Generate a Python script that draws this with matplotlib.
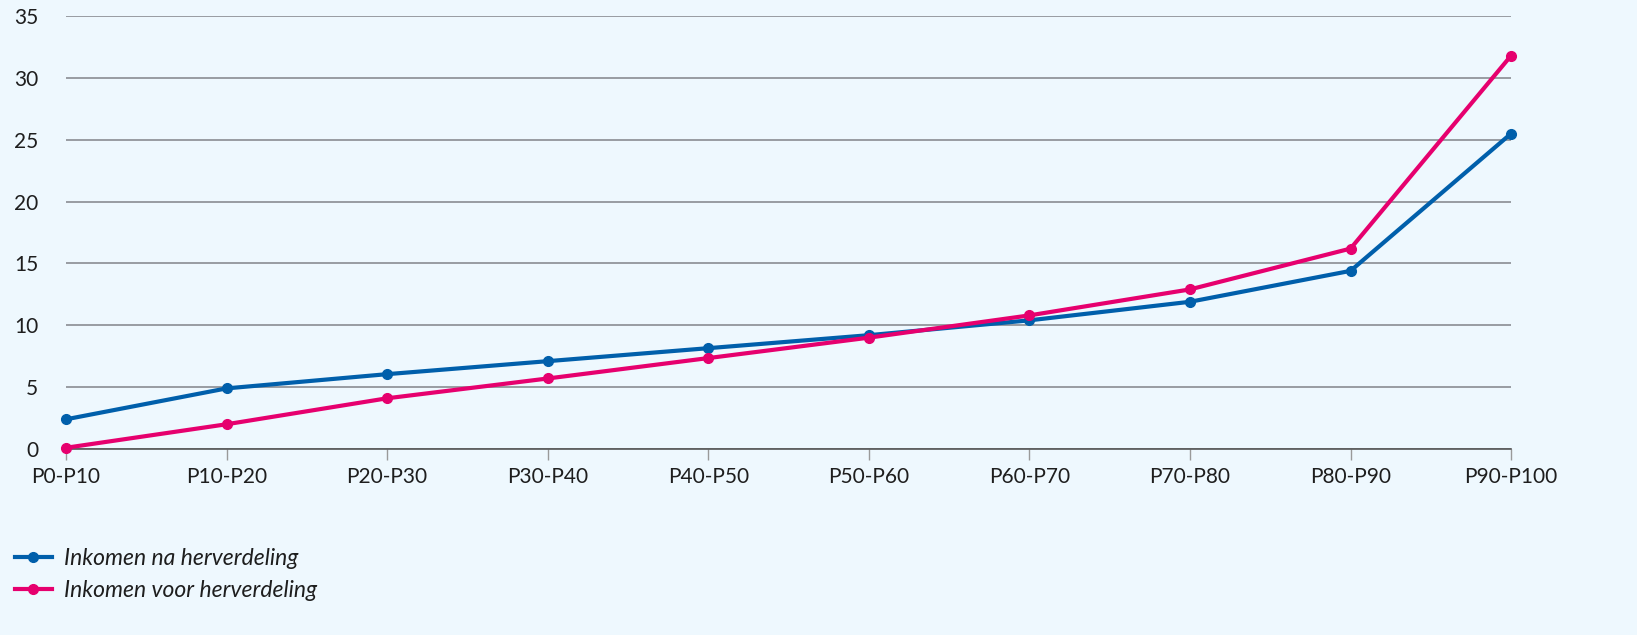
import matplotlib
matplotlib.use("Agg")
import matplotlib.pyplot as plt

plt.rcParams["font.family"] = ["Lato", "DejaVu Sans"]

categories = ["P0-P10", "P10-P20", "P20-P30", "P30-P40", "P40-P50",
              "P50-P60", "P60-P70", "P70-P80", "P80-P90", "P90-P100"]
na_herverdeling = [2.4, 4.9, 6.05, 7.1, 8.15, 9.2, 10.4, 11.9, 14.4, 25.5]
voor_herverdeling = [0.1, 2.0, 4.1, 5.7, 7.35, 9.0, 10.8, 12.9, 16.2, 31.8]
y_ticks = [0, 5, 10, 15, 20, 25, 30, 35]

BG = "#eef8fe"
BLUE = "#005fab"
PINK = "#e6006e"
TEXT = "#1e1e1e"

fig = plt.figure(figsize=(16.37, 6.35), dpi=100, facecolor=BG)
ax = fig.add_axes([0.0403, 0.2929, 0.8828, 0.6819])
ax.set_facecolor(BG)

x = list(range(len(categories)))
ax.plot(x, na_herverdeling, color=BLUE, linewidth=3, marker="o", markersize=7,
        label="Inkomen na herverdeling", clip_on=False, zorder=3)
ax.plot(x, voor_herverdeling, color=PINK, linewidth=3, marker="o", markersize=7,
        label="Inkomen voor herverdeling", clip_on=False, zorder=4)

ax.set_xlim(0, len(categories) - 1)
ax.set_ylim(0, 35)
ax.set_yticks(y_ticks)
ax.set_xticks(x)
ax.set_xticklabels(categories)
ax.yaxis.grid(True, color="#8a8d92", linewidth=1.2)
ax.set_axisbelow(True)
for side in ["top", "right", "left"]:
    ax.spines[side].set_visible(False)
ax.spines["bottom"].set_color("#555555")
ax.spines["bottom"].set_linewidth(1.2)
ax.tick_params(axis="y", length=0, pad=20, labelsize=15, labelcolor=TEXT)
ax.tick_params(axis="x", length=8, width=1, color="#9a9a9a", pad=5,
               labelsize=15, labelcolor=TEXT)

handles, labels = ax.get_legend_handles_labels()
leg = fig.legend(handles, labels, loc="upper left", bbox_to_anchor=(0.0, 0.16),
                 frameon=False, handlelength=1.6, handletextpad=0.55,
                 labelspacing=0.45, borderaxespad=0.25,
                 prop={"style": "italic", "size": 16.5})
for t in leg.get_texts():
    t.set_color(TEXT)

fig.savefig("out.png", dpi=100, facecolor=BG)
